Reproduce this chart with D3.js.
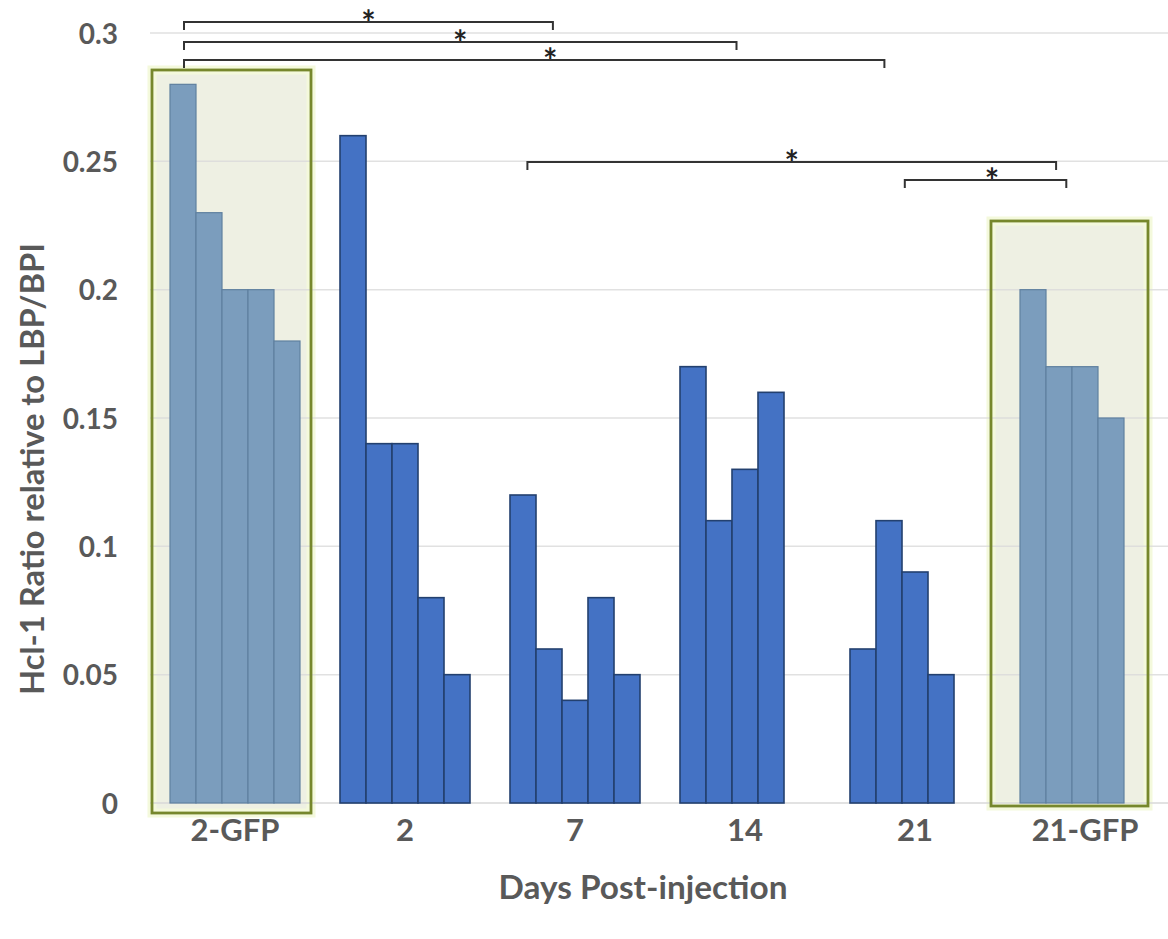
<!DOCTYPE html>
<html>
<head>
<meta charset="utf-8">
<script src="https://cdn.jsdelivr.net/npm/d3@7"></script>
<style>
  body { margin: 0; background: #fff; }
  text { font-family: Lato, "Open Sans", sans-serif; font-weight: 700; }
</style>
</head>
<body>
<div id="chart"></div>
<script>
// Chart data
var categories = ["2-GFP", "2", "7", "14", "21", "21-GFP"];
var gfpGroups = ["2-GFP", "21-GFP"];
var values = {
  "2-GFP": [0.28, 0.23, 0.20, 0.20, 0.18],
  "2": [0.26, 0.14, 0.14, 0.08, 0.05],
  "7": [0.12, 0.06, 0.04, 0.08, 0.05],
  "14": [0.17, 0.11, 0.13, 0.16],
  "21": [0.06, 0.11, 0.09, 0.05],
  "21-GFP": [0.20, 0.17, 0.17, 0.15]
};
var yTicks = [0, 0.05, 0.1, 0.15, 0.2, 0.25, 0.3];
var yTickLabels = ["0", "0.05", "0.1", "0.15", "0.2", "0.25", "0.3"];

// significance brackets: [category, fraction of band] ends, level in y units
var brackets = [
  { from: ["2-GFP", 0.20], to: ["7", 0.37], level: 0.3043, star: 0.5 },
  { from: ["2-GFP", 0.20], to: ["14", 0.45], level: 0.2965, star: 0.5 },
  { from: ["2-GFP", 0.20], to: ["21", 0.32], level: 0.2895, star: 0.523 },
  { from: ["7", 0.22], to: ["21-GFP", 0.33], level: 0.2497, star: 0.5 },
  { from: ["21", 0.44], to: ["21-GFP", 0.39], level: 0.2427, star: 0.54 }
];

var svgWidth = 1168;
var svgHeight = 939;

var svg = d3.select("#chart")
  .append("svg")
  .attr("width", svgWidth)
  .attr("height", svgHeight);

// scales
var xScale = d3.scaleBand()
  .domain(categories)
  .range([150, 1170]);

var slotScale = d3.scaleBand()
  .domain(d3.range(5))
  .range([20, 150]);

var yScale = d3.scaleLinear()
  .domain([0, 0.3])
  .range([803, 33]);

// green highlight boxes behind the GFP groups
var boxes = [
  { cat: "2-GFP", x0: 2, x1: 161, top: 70, bottom: 813 },
  { cat: "21-GFP", x0: -9, x1: 148, top: 221, bottom: 806 }
];

svg.selectAll(".glow")
  .data(boxes)
  .enter()
  .append("rect")
  .attr("x", d => xScale(d.cat) + d.x0)
  .attr("y", d => d.top)
  .attr("width", d => d.x1 - d.x0)
  .attr("height", d => d.bottom - d.top)
  .attr("fill", "#eef0e3")
  .attr("stroke", "#f4f9dc")
  .attr("stroke-width", 9);

// gridlines
svg.append("g")
  .selectAll("line")
  .data(yTicks)
  .enter()
  .append("line")
  .attr("x1", 150)
  .attr("x2", 1168)
  .attr("y1", d => yScale(d))
  .attr("y2", d => yScale(d))
  .attr("stroke", "#d9d9d9")
  .attr("stroke-opacity", d => d === 0 ? 1 : 0.8)
  .attr("stroke-width", 1.5);

// y axis labels
var yAxis = d3.axisLeft(yScale)
  .tickValues(yTicks)
  .tickFormat((d, i) => yTickLabels[i])
  .tickSize(0)
  .tickPadding(0);

var yAxisG = svg.append("g")
  .attr("transform", "translate(118,0)")
  .call(yAxis);
yAxisG.select(".domain").remove();
yAxisG.selectAll("text")
  .attr("font-size", 28)
  .attr("font-family", "Lato, sans-serif")
  .attr("font-weight", 700)
  .attr("fill", "#595959")
  .attr("dy", "0.36em");

// x axis labels
var xAxis = d3.axisBottom(xScale).tickSize(0).tickPadding(0);
var xAxisG = svg.append("g")
  .attr("transform", "translate(0,830)")
  .call(xAxis);
xAxisG.select(".domain").remove();
xAxisG.selectAll("text")
  .attr("font-size", 31)
  .attr("font-family", "Lato, sans-serif")
  .attr("font-weight", 700)
  .attr("fill", "#595959")
  .attr("dy", "0.36em");

// bars
var barData = [];
categories.forEach(function(cat) {
  values[cat].forEach(function(v, i) {
    barData.push({ cat: cat, i: i, value: v, gfp: gfpGroups.indexOf(cat) >= 0 });
  });
});

svg.selectAll(".bar")
  .data(barData)
  .enter()
  .append("rect")
  .classed("bar", true)
  .attr("x", d => xScale(d.cat) + slotScale(d.i))
  .attr("y", d => yScale(d.value))
  .attr("width", slotScale.bandwidth())
  .attr("height", d => yScale(0) - yScale(d.value))
  .attr("fill", d => d.gfp ? "#7b9dbd" : "#4472c4")
  .attr("stroke", d => d.gfp ? "#5f809f" : "#23406f")
  .attr("stroke-width", d => d.gfp ? 1.2 : 1.6);

// box outlines on top
svg.selectAll(".boxline")
  .data(boxes)
  .enter()
  .append("rect")
  .attr("x", d => xScale(d.cat) + d.x0)
  .attr("y", d => d.top)
  .attr("width", d => d.x1 - d.x0)
  .attr("height", d => d.bottom - d.top)
  .attr("fill", "none")
  .attr("stroke", "#76872c")
  .attr("stroke-width", 2.8);

// significance brackets
function bx(p) { return xScale(p[0]) + p[1] * xScale.bandwidth(); }

var bGroup = svg.append("g");
brackets.forEach(function(b) {
  var x1 = bx(b.from), x2 = bx(b.to), y = yScale(b.level);
  bGroup.append("path")
    .attr("d", `M${x1},${y + 8}V${y}H${x2}V${y + 8}`)
    .attr("fill", "none")
    .attr("stroke", "#333")
    .attr("stroke-width", 2);
  bGroup.append("text")
    .attr("x", x1 + (x2 - x1) * b.star)
    .attr("y", y + 13)
    .attr("text-anchor", "middle")
    .attr("font-size", 34)
    .attr("font-family", "DejaVu Sans, sans-serif")
    .attr("font-weight", 700)
    .attr("fill", "#222")
    .text("*");
});

// axis titles
svg.append("text")
  .attr("transform", "translate(44,469) rotate(-90)")
  .attr("text-anchor", "middle")
  .attr("font-size", 32)
  .attr("fill", "#595959")
  .attr("textLength", 452)
  .attr("lengthAdjust", "spacingAndGlyphs")
  .text("Hcl-1 Ratio relative to LBP/BPI");

svg.append("text")
  .attr("x", 643)
  .attr("y", 899)
  .attr("text-anchor", "middle")
  .attr("font-size", 33)
  .attr("fill", "#595959")
  .attr("textLength", 289)
  .attr("lengthAdjust", "spacingAndGlyphs")
  .text("Days Post-injection");
</script>
</body>
</html>
